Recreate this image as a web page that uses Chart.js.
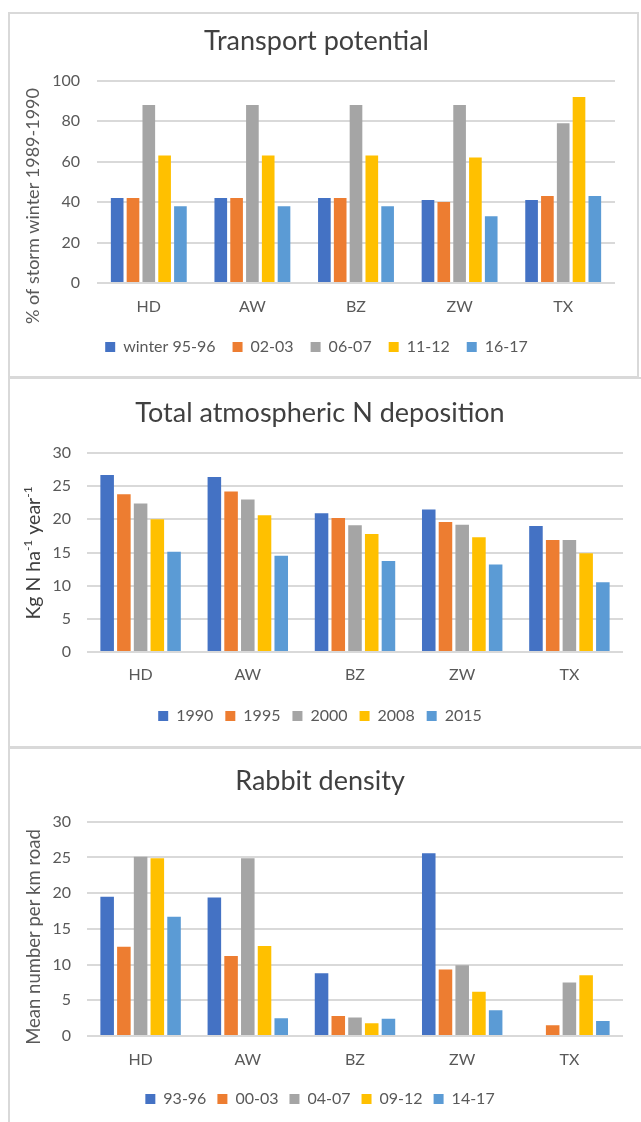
<!DOCTYPE html>
<html><head><meta charset="utf-8">
<script src="https://cdn.jsdelivr.net/npm/chart.js@4"></script>
<style>
html,body{margin:0;padding:0;background:#fff;width:641px;height:1122px;overflow:hidden;}
.panel{position:absolute;box-sizing:border-box;border:2px solid #d9d9d9;background:#fff;}
canvas{position:absolute;}
</style></head><body>
<div class="panel" style="left:8px;top:12px;width:631px;height:366px;"></div>
<div class="panel" style="left:8px;top:377px;width:700px;height:371px;border-right:none;"></div>
<div class="panel" style="left:8px;top:747px;width:700px;height:400px;border-right:none;border-bottom:none;"></div>
<canvas id="c1" width="629" height="364" style="left:9px;top:13px"></canvas>
<canvas id="c2" width="632" height="369" style="left:9px;top:378px"></canvas>
<canvas id="c3" width="632" height="373" style="left:9px;top:749px"></canvas>
<script>
// ---------- data ----------
const categories = ['HD', 'AW', 'BZ', 'ZW', 'TX'];
const colors = ['#4472C4', '#ED7D31', '#A5A5A5', '#FFC000', '#5B9BD5'];

const transportTitle = 'Transport potential';
const transportYLabel = '% of storm winter 1989-1990';
const transportSeries = ['winter 95-96', '02-03', '06-07', '11-12', '16-17'];
const transport9596 = [42, 42, 42, 41, 41];
const transport0203 = [42, 42, 42, 40, 43];
const transport0607 = [88, 88, 88, 88, 79];
const transport1112 = [63, 63, 63, 62, 92];
const transport1617 = [38, 38, 38, 33, 43];
const transportTicks = [0, 20, 40, 60, 80, 100];

const nTitle = 'Total atmospheric N deposition';
const nYLabelParts = [['Kg N ha', false], ['-1', true], [' year', false], ['-1', true]];
const nSeries = ['1990', '1995', '2000', '2008', '2015'];
const n1990 = [26.7, 26.4, 20.9, 21.5, 19.0];
const n1995 = [23.8, 24.2, 20.2, 19.6, 16.9];
const n2000 = [22.4, 23.0, 19.1, 19.2, 16.9];
const n2008 = [20.0, 20.6, 17.8, 17.3, 14.9];
const n2015 = [15.1, 14.5, 13.7, 13.2, 10.5];
const nTicks = [0, 5, 10, 15, 20, 25, 30];

const rabbitTitle = 'Rabbit density';
const rabbitYLabel = 'Mean number per km road';
const rabbitSeries = ['93-96', '00-03', '04-07', '09-12', '14-17'];
const rabbit9396 = [19.5, 19.4, 8.8, 25.6, null];
const rabbit0003 = [12.5, 11.2, 2.8, 9.3, 1.5];
const rabbit0407 = [25.1, 24.9, 2.6, 9.9, 7.5];
const rabbit0912 = [24.9, 12.6, 1.8, 6.2, 8.5];
const rabbit1417 = [16.7, 2.5, 2.4, 3.6, 2.1];
const rabbitTicks = [0, 5, 10, 15, 20, 25, 30];

// ---------- rendering ----------
const FONT = 'Lato';
const yTitlePlugin = {
  id: 'yTitle',
  afterDraw(chart, args, o) {
    const ctx = chart.ctx;
    ctx.save();
    ctx.translate(o.x, o.y);
    ctx.rotate(-Math.PI / 2);
    ctx.fillStyle = o.color;
    ctx.textBaseline = 'middle';
    ctx.textAlign = 'left';
    const big = o.size + 'px ' + FONT, small = Math.round(o.size * 0.62) + 'px ' + FONT;
    let total = 0;
    o.parts.forEach(p => { ctx.font = p[1] ? small : big; total += ctx.measureText(p[0]).width; });
    let x = -total / 2;
    o.parts.forEach(p => {
      ctx.font = p[1] ? small : big;
      ctx.fillText(p[0], x, p[1] ? -o.size * 0.32 : 0);
      x += ctx.measureText(p[0]).width;
    });
    ctx.restore();
  }
};

function makeChart(id, cfg) {
  new Chart(document.getElementById(id), {
    type: 'bar',
    data: {
      labels: categories,
      datasets: cfg.series.map((s, i) => ({
        label: s, data: cfg.data[i], backgroundColor: colors[i], borderWidth: 0,
        categoryPercentage: cfg.catPct, barPercentage: cfg.barPct
      }))
    },
    options: {
      responsive: false, animation: false, events: [],
      layout: { padding: cfg.pad },
      plugins: {
        title: { display: true, text: cfg.title, color: '#404040',
          font: { family: FONT, size: 27, weight: 'normal' }, padding: cfg.titlePad },
        legend: { position: 'bottom',
          labels: { boxWidth: 10, boxHeight: 10, padding: cfg.legendPad, color: '#595959',
            font: { family: FONT, size: 16 } } },
        tooltip: { enabled: false },
        yTitle: { x: cfg.yt[0], y: cfg.yt[1], parts: cfg.yParts, size: cfg.ytSize, color: cfg.ytColor }
      },
      scales: {
        x: {
          grid: { display: false, drawTicks: false }, border: { display: false },
          ticks: { color: '#595959', font: { family: FONT, size: 16 }, padding: cfg.xTickPad, maxRotation: 0 },
          afterFit(s) { s.height = cfg.xH; }
        },
        y: {
          min: cfg.ticks[0], max: cfg.ticks[cfg.ticks.length - 1],
          afterBuildTicks(s) { s.ticks = cfg.ticks.map(v => ({ value: v })); },
          ticks: { color: '#595959', font: { family: FONT, size: 16 }, padding: cfg.yTickPad },
          grid: { color: '#d9d9d9', lineWidth: 2, drawTicks: false }, border: { display: false },
          afterFit(s) { s.width = cfg.yW; }
        }
      }
    },
    plugins: [yTitlePlugin]
  });
}

makeChart('c1', {
  title: transportTitle, series: transportSeries,
  data: [transport9596, transport0203, transport0607, transport1112, transport1617],
  ticks: transportTicks, catPct: 0.763, barPct: 0.8,
  pad: { left: 9, right: 23, top: 0, bottom: 12 }, yW: 79, yTickPad: 17,
  titlePad: { top: 12.5, bottom: 22.8 }, legendPad: 17, xH: 39, xTickPad: 14,
  yt: [24, 206 - 13], yParts: [[transportYLabel, false]], ytSize: 18, ytColor: '#595959'
});
makeChart('c2', {
  title: nTitle, series: nSeries,
  data: [n1990, n1995, n2000, n2008, n2015],
  ticks: nTicks, catPct: 0.78, barPct: 0.81,
  pad: { left: 8, right: 18, top: 0, bottom: 13 }, yW: 70, yTickPad: 16,
  titlePad: { top: 18.8, bottom: 23.8 }, legendPad: 12, xH: 44, xTickPad: 13,
  yt: [25, 175], yParts: nYLabelParts, ytSize: 19.5, ytColor: '#404040'
});
makeChart('c3', {
  title: rabbitTitle, series: rabbitSeries,
  data: [rabbit9396, rabbit0003, rabbit0407, rabbit0912, rabbit1417],
  ticks: rabbitTicks, catPct: 0.78, barPct: 0.81,
  pad: { left: 8, right: 18, top: 0, bottom: 5 }, yW: 70, yTickPad: 16,
  titlePad: { top: 16.5, bottom: 23.8 }, legendPad: 11, xH: 44, xTickPad: 14,
  yt: [25.5, 188], yParts: [[rabbitYLabel, false]], ytSize: 18.5, ytColor: '#595959'
});
</script>
</body></html>
